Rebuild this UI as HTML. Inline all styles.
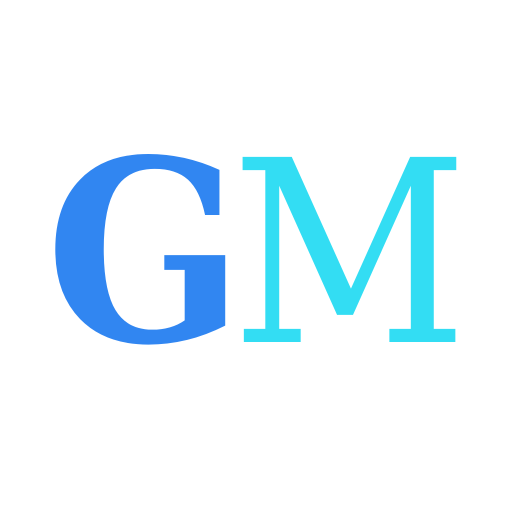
<!DOCTYPE html>
<html><head><meta charset="utf-8"><style>html,body{margin:0;padding:0;background:#fff}svg{display:block}</style></head>
<body>
<svg width="512" height="512" viewBox="0 0 512 512">
<rect width="512" height="512" fill="#fff"/>
<g transform="translate(52,0) scale(0.92,1)">
<text x="-7" y="341" font-family="DejaVu Serif, Liberation Serif, serif" font-weight="bold" font-size="252" fill="#3186F1">G</text>
</g>
<g transform="translate(242,0) scale(0.911,1)">
<text x="-12" y="342" font-family="DejaVu Serif, Liberation Serif, serif" font-size="254" fill="#33DDF3">M</text>
</g>
</svg>
</body></html>
